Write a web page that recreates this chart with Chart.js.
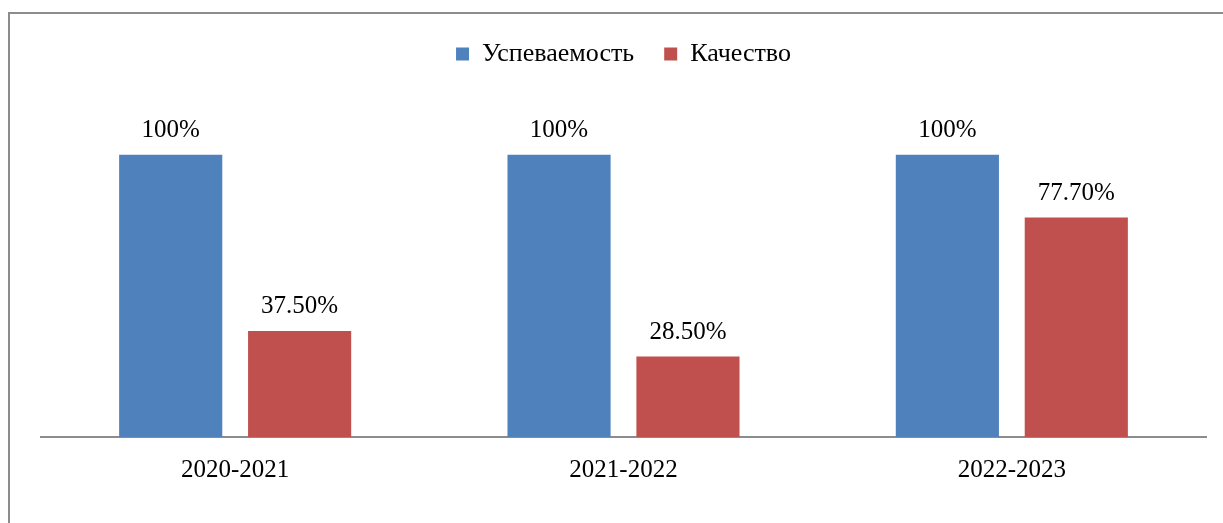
<!DOCTYPE html>
<html>
<head>
<meta charset="utf-8">
<script src="https://cdn.jsdelivr.net/npm/chart.js@4/dist/chart.umd.min.js"></script>
<style>
    body { margin: 0; background: #fff; }
    #wrap { position: relative; width: 1223px; height: 523px; overflow: hidden; }
    #frame {
        position: absolute; left: 8px; top: 12px;
        width: 1240px; height: 540px;
        border: 2px solid #8c8c8c; pointer-events: none;
    }
    canvas { position: absolute; left: 0; top: 0; }
</style>
</head>
<body>
<div id="wrap">
    <canvas id="chart" width="1223" height="523"></canvas>
    <div id="frame"></div>
</div>
<script>
const years = ['2020-2021', '2021-2022', '2022-2023'];
const uspevaemost = [100, 100, 100];
const kachestvo = [37.5, 28.5, 77.7];

const serif = 'Liberation Serif';

function fmtPercent(v) {
    return Number.isInteger(v) ? v + '%' : v.toFixed(2) + '%';
}

// подписи значений над столбцами
const valueLabels = {
    id: 'valueLabels',
    afterDatasetsDraw(chart) {
        const ctx = chart.ctx;
        ctx.save();
        ctx.font = '25px "' + serif + '"';
        ctx.fillStyle = '#000';
        ctx.textAlign = 'center';
        ctx.textBaseline = 'alphabetic';
        chart.data.datasets.forEach((ds, i) => {
            chart.getDatasetMeta(i).data.forEach((bar, j) => {
                ctx.fillText(fmtPercent(ds.data[j]), bar.x, bar.y - 18);
            });
        });
        ctx.restore();
    }
};

new Chart(document.getElementById('chart').getContext('2d'), {
    type: 'bar',
    data: {
        labels: years,
        datasets: [
            {
                label: 'Успеваемость',
                data: uspevaemost,
                backgroundColor: '#4F81BD'
            },
            {
                label: 'Качество',
                data: kachestvo,
                backgroundColor: '#C0504D'
            }
        ]
    },
    options: {
        responsive: false,
        animation: false,
        layout: {
            padding: { top: 11, left: 41, right: 17, bottom: 20 }
        },
        datasets: {
            bar: { categoryPercentage: 0.664, barPercentage: 0.8 }
        },
        plugins: {
            legend: {
                position: 'top',
                labels: {
                    boxWidth: 13,
                    boxHeight: 13,
                    padding: 30,
                    color: '#000',
                    font: { family: serif, size: 26 }
                }
            },
            tooltip: { enabled: false }
        },
        scales: {
            x: {
                grid: { display: false, drawTicks: false },
                border: { display: true, color: '#8c8c8c', width: 2 },
                ticks: {
                    color: '#000',
                    padding: 18,
                    font: { family: serif, size: 25 }
                }
            },
            y: {
                display: false,
                min: 0,
                max: 127.5
            }
        }
    },
    plugins: [valueLabels]
});
</script>
</body>
</html>
